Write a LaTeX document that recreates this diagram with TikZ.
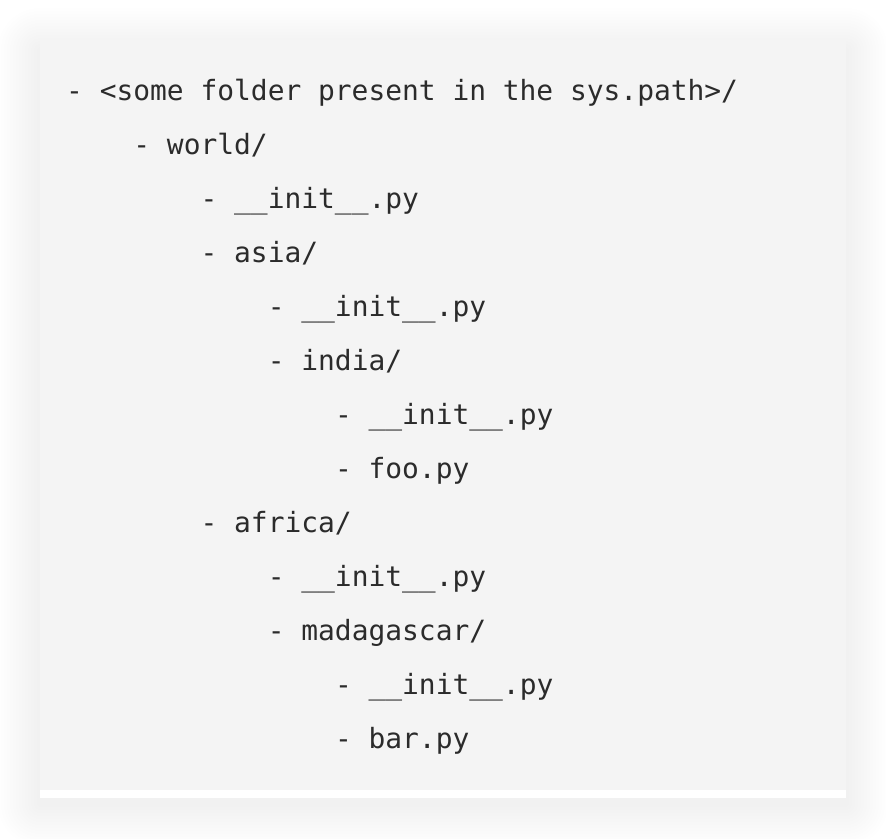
\documentclass[tikz,border=0pt]{standalone}
\usepackage{fontspec}
\setmonofont{DejaVu Sans Mono}
\usetikzlibrary{positioning}
\definecolor{codebg}{HTML}{F4F4F4}
\definecolor{codefg}{HTML}{2B2B2B}
\tikzset{
  entry/.style={anchor=base west,inner sep=0pt,font=\ttfamily\fontsize{27.9}{30}\selectfont,text=codefg},
  card/.style={fill=white,draw=none},
  codearea/.style={fill=codebg,draw=none}
}

\begin{document}
\begin{tikzpicture}[x=1pt,y=-1pt]
\useasboundingbox (0,0) rectangle (886,838);
% soft shadow under the card
\foreach \r in {3,6,...,42}
  \fill[black,opacity=0.0055,rounded corners=\r pt] (40-\r,50-\r) rectangle (846+\r,804+\r);
\fill[card] (40,40) rectangle (846,798);
\fill[codearea] (40,40) rectangle (846,790);
% one line per entry, 4 columns per level
\node[entry] (root) at (66,100.5) {- <some folder present in the sys.path>/};
\node[entry] (world) at (133.2,154.5) {- world/};
\node[entry] (worldinit) at (200.4,208.5) {- \_\_init\_\_.py};
\node[entry] (asia) at (200.4,262.5) {- asia/};
\node[entry] (asiainit) at (267.6,316.5) {- \_\_init\_\_.py};
\node[entry] (india) at (267.6,370.5) {- india/};
\node[entry] (indiainit) at (334.8,424.5) {- \_\_init\_\_.py};
\node[entry] (foo) at (334.8,478.5) {- foo.py};
\node[entry] (africa) at (200.4,532.5) {- africa/};
\node[entry] (africainit) at (267.6,586.5) {- \_\_init\_\_.py};
\node[entry] (madagascar) at (267.6,640.5) {- madagascar/};
\node[entry] (madainit) at (334.8,694.5) {- \_\_init\_\_.py};
\node[entry] (bar) at (334.8,748.5) {- bar.py};
\end{tikzpicture}
\end{document}
